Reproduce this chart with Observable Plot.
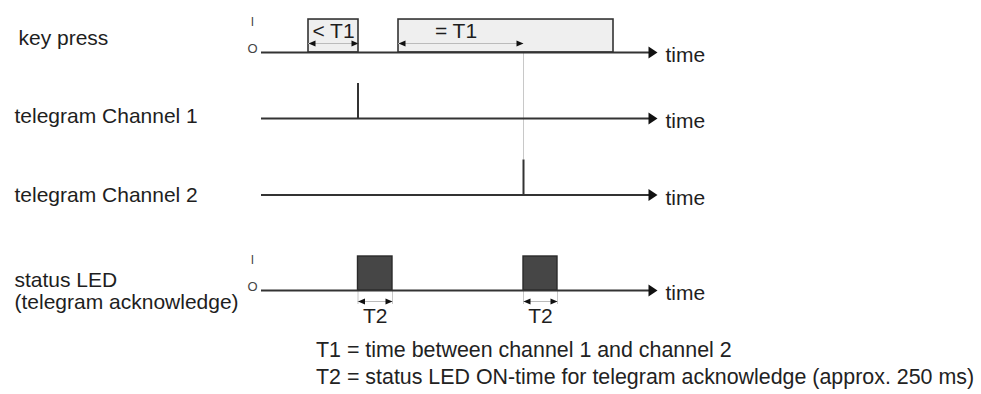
<!DOCTYPE html>
<html><head><meta charset="utf-8">
<script src="https://cdn.jsdelivr.net/npm/d3@7"></script>
<script src="https://cdn.jsdelivr.net/npm/@observablehq/plot@0.6"></script>
<style>
body{margin:0;background:#fff;font-family:"Liberation Sans",Arial,sans-serif;}
#notes{padding-left:316px;font-size:21.4px;line-height:27px;color:#222;margin-top:2px;white-space:nowrap}
</style></head><body>
<div id="chart"></div>
<div id="notes"></div>
<script>
// ---------- data ----------
const laneNames = ["key press", "telegram Channel 1", "telegram Channel 2", "status LED\n(telegram acknowledge)"];
const keyPressOn = [[47, 97], [137, 352]];          // key held down (start, end)
const channel1Telegrams = [96.5];                    // telegram sent on channel 1
const channel2Telegrams = [262];                     // telegram sent on channel 2
const ledOn = [[96.5, 131], [262, 296]];             // status LED on (start, end)
const t1Starts = [47, 137];
const t1Ends = [97, 262];
const t1Labels = ["< T1", "= T1"];
const t2Label = "T2";
const timeLabel = "time";
const levelHigh = "I", levelLow = "O";
const notes = ["T1 = time between channel 1 and channel 2",
               "T2 = status LED ON-time for telegram acknowledge (approx. 250 ms)"];
const timeEnd = 396;

// ---------- layout ----------
const W = 981, H = 335, UNIT = 34;
const laneBasePx = [52, 118, 194.5, 290];
const v = p => (laneBasePx[0] - p) / UNIT;           // pixel row -> level units
const laneBase = laneBasePx.map(v);
const lanes = laneNames.map((name, i) => ({name, base: laneBase[i]}));
const labelLift = [14, 3, 0, 0];
const ink = "#333", text = "#1e1e1e", faint = "#c8c8c8";
const head = (w, h) => ({draw(ctx) { ctx.moveTo(0, 0); ctx.lineTo(-w, -h / 2); ctx.lineTo(-w, h / 2); ctx.closePath(); }});
const bigHead = head(9, 12), smallHead = head(7, 6);

const keyRects = keyPressOn.map(([a, b]) => ({a, b, base: laneBase[0]}));
const ledRects = ledOn.map(([a, b]) => ({a, b, base: laneBase[3]}));
const t1 = t1Starts.map((s, i) => ({a: s, b: t1Ends[i], label: t1Labels[i]}));
const t1Y = v(43), t2Y = v(301);
const ioLanes = [lanes[0], lanes[3]];

const plot = Plot.plot({
  width: W, height: H, margin: 0,
  style: {fontFamily: "'Liberation Sans', Arial, sans-serif", background: "#fff"},
  x: {domain: [-261, 720], range: [0, W], axis: null},
  y: {domain: [v(H), v(0)], range: [H, 0], axis: null},
  marks: [
    Plot.ruleX(channel2Telegrams, {x: d => d, y1: () => t1Y, y2: () => laneBase[2] + 1.03, stroke: faint, strokeWidth: 1}),
    Plot.ruleX(ledOn.flat(), {x: d => d, y1: () => laneBase[3], y2: () => v(304), stroke: faint, strokeWidth: 1}),
    Plot.rect(keyRects, {x1: "a", x2: "b", y1: "base", y2: d => d.base + 0.97, fill: "#efefef", stroke: ink, strokeWidth: 1.6}),
    Plot.rect(ledRects, {x1: "a", x2: "b", y1: "base", y2: d => d.base + 1, fill: "#464646", stroke: "#2a2a2a", strokeWidth: 1.4}),
    Plot.ruleX(channel1Telegrams, {x: d => d, y1: () => laneBase[1], y2: () => laneBase[1] + 1.03, stroke: ink, strokeWidth: 2}),
    Plot.ruleX(channel2Telegrams, {x: d => d, y1: () => laneBase[2], y2: () => laneBase[2] + 1.03, stroke: ink, strokeWidth: 2}),
    Plot.ruleY(lanes, {y: "base", x1: () => 0, x2: () => timeEnd - 7, stroke: ink, strokeWidth: 2}),
    Plot.dot(lanes, {x: () => timeEnd, y: "base", symbol: bigHead, r: 4.5, fill: "#111", stroke: "none"}),
    Plot.text(lanes, {x: () => timeEnd + 8, y: "base", text: () => timeLabel, textAnchor: "start", dy: 3, fontSize: 21, fill: text}),
    Plot.text(lanes.slice(0, 1), {y: d => d.base + labelLift[0] / UNIT, text: "name", frameAnchor: "left", textAnchor: "start", dx: 18, fontSize: 21, fill: text}),
    Plot.text(lanes.slice(1), {y: (d, i) => d.base + labelLift[i + 1] / UNIT, text: "name", frameAnchor: "left", textAnchor: "start", dx: 14, fontSize: 21, lineHeight: 1.06, fill: text}),
    Plot.text(ioLanes, {x: () => -9, y: d => d.base + 0.88, text: () => levelHigh, fontSize: 12, fill: "#444"}),
    Plot.text(ioLanes, {x: () => -9, y: d => d.base + 0.12, text: () => levelLow, fontSize: 13, fill: "#444"}),
    Plot.ruleY(t1, {y: () => t1Y, x1: "a", x2: "b", stroke: "#bbb", strokeWidth: 1}),
    Plot.dot(t1, {x: "a", y: () => t1Y, symbol: smallHead, rotate: 180, r: 3, fill: "#111", stroke: "none"}),
    Plot.dot(t1, {x: "b", y: () => t1Y, symbol: smallHead, r: 3, fill: "#111", stroke: "none"}),
    Plot.text(t1, {x: d => (d.a + d.b) / 2 + (d.b - d.a > 80 ? -5 : 0), y: () => v(31), text: "label", fontSize: 21, fill: text}),
    Plot.ruleY(ledRects, {y: () => t2Y, x1: "a", x2: "b", stroke: "#bbb", strokeWidth: 1}),
    Plot.dot(ledRects, {x: "a", y: () => t2Y, symbol: smallHead, rotate: 180, r: 3, fill: "#111", stroke: "none"}),
    Plot.dot(ledRects, {x: "b", y: () => t2Y, symbol: smallHead, r: 3, fill: "#111", stroke: "none"}),
    Plot.text(ledRects, {x: d => (d.a + d.b) / 2, y: () => v(316), text: () => t2Label, fontSize: 21, fill: text})
  ]
});
document.getElementById("chart").appendChild(plot);
const nd = document.getElementById("notes");
notes.forEach(n => { const div = document.createElement("div"); div.textContent = n; nd.appendChild(div); });
</script>
</body></html>
